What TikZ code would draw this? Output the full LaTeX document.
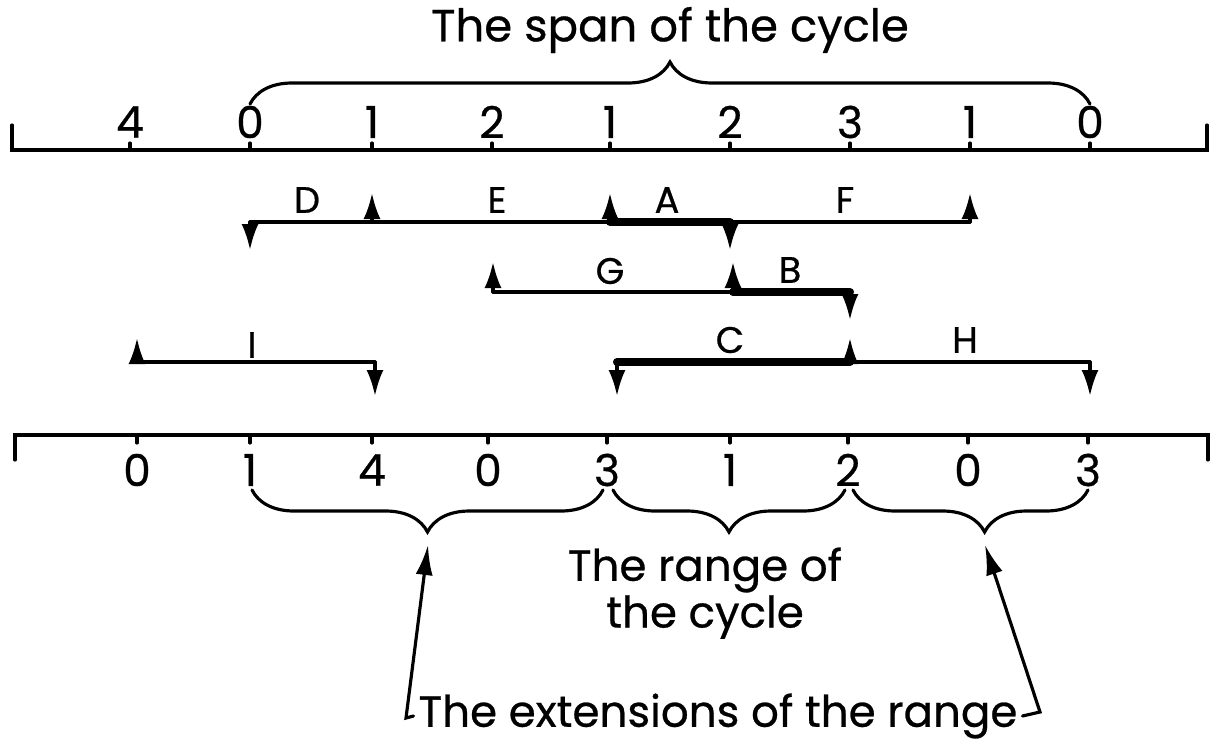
\documentclass[tikz,border=0pt]{standalone}
\usepackage{fontspec}
\setmainfont{Poppins}[FakeBold=0.6]
\usetikzlibrary{arrows.meta,positioning,decorations.pathreplacing,calc}

\begin{document}
\begin{tikzpicture}[x=0.1mm,y=-0.1mm,line width=0.9pt,line cap=round,
  tip/.style={-{Latex[length=2.6mm,width=1.7mm]}},
  seg/.style={line width=2.3pt},
  lbl/.style={font=\fontsize{10.5}{12}\selectfont},
  num/.style={font=\fontsize{12.5}{14}\selectfont},
  txt/.style={font=\fontsize{12.4}{14}\selectfont},
  brc/.style={decorate,decoration={brace,amplitude=4.2mm}}]
\useasboundingbox (0,0) rectangle (1217,744);

% upper scale
\draw (12,125) -- (12,150) -- (1207,150) -- (1207,125);
\foreach \x/\l [count=\i] in {130/4,250/0,372/1,492/2,610/1,730/2,850/3,970/1,1090/0}{
  \draw (\x,150) -- (\x,143);
  \node[num] (up\i) at (\x,122) {\l};
}
\node[txt,font=\fontsize{12.8}{14}\selectfont] (span) at (670,30) {The span of the cycle};
\draw[brc] (250,104) -- node[coordinate] (spanc) {} (1090,104);

% levels for the arrow tips
\coordinate (u1) at (0,193);
\coordinate (d1) at (0,250);
\coordinate (u2) at (0,262);
\coordinate (d2) at (0,320);
\coordinate (u3) at (0,338);
\coordinate (d3) at (0,396);

% first row: D E A F
\coordinate (p11) at (250,222);
\coordinate (p12) at (372,222);
\coordinate (p13) at (610,222);
\coordinate (p14) at (730,222);
\coordinate (p15) at (970,222);
\draw (p11) -- (p15);
\draw[seg] (p13) -- (p14);
\draw[tip] (p11) -- (p11 |- d1);
\draw[tip] (p12) -- (p12 |- u1);
\draw[tip] (p13) -- (p13 |- u1);
\draw[tip] (p14) -- (p14 |- d1);
\draw[tip] (p15) -- (p15 |- u1);
\node[lbl] (lD) at (307,200) {D};
\node[lbl] (lE) at (497,200) {E};
\node[lbl] (lA) at (667,200) {A};
\node[lbl] (lF) at (845,200) {F};

% second row: G B
\coordinate (p21) at (493,292);
\coordinate (p22) at (733,292);
\coordinate (p23) at (850,292);
\draw (p21) -- (p23);
\draw[seg] (p22) -- (p23);
\draw[tip] (p21) -- (p21 |- u2);
\draw[tip] (p22) -- (p22 |- u2);
\draw[tip] (p23) -- (p23 |- d2);
\node[lbl] (lG) at (610,271) {G};
\node[lbl] (lB) at (790,270) {B};

% third row: I C H
\coordinate (p31) at (137,362);
\coordinate (p32) at (375,362);
\coordinate (p33) at (617,362);
\coordinate (p34) at (850,362);
\coordinate (p35) at (1090,362);
\draw (p31) -- (p32);
\draw (p33) -- (p35);
\draw[seg] (p33) -- (p34);
\draw[tip] (p31) -- (p31 |- u3);
\draw[tip] (p32) -- (p32 |- d3);
\draw[tip] (p33) -- (p33 |- d3);
\draw[tip] (p34) -- (p34 |- u3);
\draw[tip] (p35) -- (p35 |- d3);
\node[lbl] (lI) at (252,345) {I};
\node[lbl] (lC) at (730,340) {C};
\node[lbl] (lH) at (965,340) {H};

% lower scale
\draw (15,460) -- (15,435) -- (1208,435) -- (1208,460);
\foreach \x/\l [count=\i] in {137/0,250/1,372/4,488/0,607/3,730/1,848/2,968/0,1088/3}{
  \draw (\x,435) -- (\x,443);
  \node[num] (lo\i) at (\x,470) {\l};
}
\draw[brc] (603,490) -- node[coordinate] (extL) {} (252,490);
\draw[brc] (845,490) -- (613,490);
\draw[brc,decoration={aspect=0.44}] (1088,490) -- (853,490);
\node[txt] (rng1) at (705,570) {The range of};
\node[txt] (rng2) at (705,617) {the cycle};
\node[txt,inner xsep=1pt] (ext) at (718,716) {The extensions of the range};

% pointers to the extensions
\coordinate (cL) at (428,545);
\coordinate (cR) at (985,545);
\coordinate (kL) at (406,718);
\coordinate (kR) at (1040,712);
\draw[-{Latex[length=3mm,width=1.7mm]}] (ext.west) -- (kL) -- (cL);
\draw[-{Latex[length=3mm,width=1.7mm]}] (ext.east) -- (kR) -- (cR);
\end{tikzpicture}
\end{document}
